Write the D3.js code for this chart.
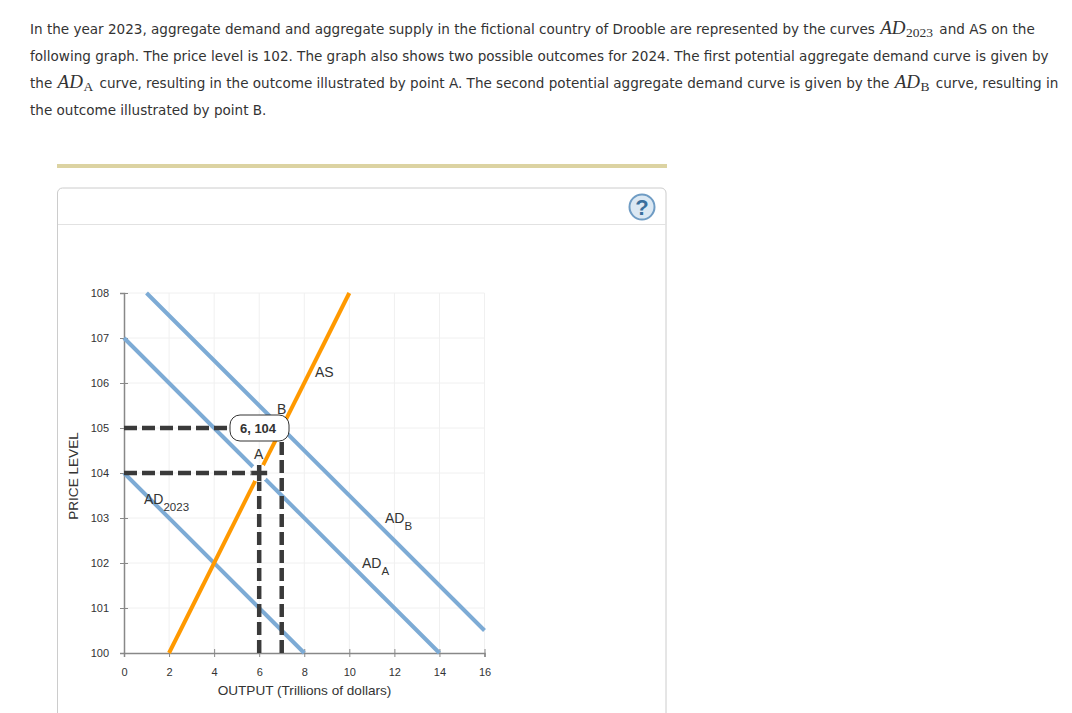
<!DOCTYPE html>
<html>
<head>
<meta charset="utf-8">
<script src="https://d3js.org/d3.v7.min.js"></script>
<style>
  html, body { margin: 0; padding: 0; background: #fff; overflow: hidden; }
  .para { font-family: "DejaVu Sans", sans-serif; font-size: 13.55px; fill: #333; }
  .math { font-family: "Liberation Serif", serif; font-style: italic; font-size: 19px; }
  .sub { font-family: "Liberation Serif", serif; font-style: normal; font-size: 13.5px; }
  .chartText { font-family: "Liberation Sans", Arial, sans-serif; fill: #333; }
  .tick text { font-family: "Liberation Sans", Arial, sans-serif; font-size: 11px; fill: #333; }
</style>
</head>
<body>
<div id="chart"></div>
<script>
// Chart values
var xTicks = [0, 2, 4, 6, 8, 10, 12, 14, 16];
var yTicks = [100, 101, 102, 103, 104, 105, 106, 107, 108];

var ad2023 = [[0, 104], [8, 100]];
var adA = [[0, 107], [14, 100]];
var adB = [[1, 108], [16, 100.5]];
var as = [[2, 100], [10, 108]];

var pointA = [6, 104];
var pointB = [7, 105];

var width = 1072;
var height = 713;

var svg = d3.select("#chart")
    .append("svg")
    .attr("width", width)
    .attr("height", height)
    .style("display", "block");

// Question text
var lines = [
  { y: 34, gap: 1, parts: [["In the year 2023, aggregate demand and aggregate supply in the fictional country of Drooble are represented by the curves "], ["AD", "2023"], [" and AS on the"]] },
  { y: 61, gap: 1, parts: [["following graph. The price level is 102. The graph also shows two possible outcomes for 2024. The first potential aggregate demand curve is given by"]] },
  { y: 88, gap: 1, parts: [["the "], ["AD", "A"], [" curve, resulting in the outcome illustrated by point A. The second potential aggregate demand curve is given by the "], ["AD", "B"], [" curve, resulting in"]] },
  { y: 114.5, gap: 1, parts: [["the outcome illustrated by point B."]] }
];

lines.forEach(function(line) {
  var t = svg.append("text")
      .attr("class", "para")
      .attr("x", 30)
      .attr("y", line.y)
      .attr("xml:space", "preserve");
  var back = 0;
  var after = 0;
  line.parts.forEach(function(p) {
    if (p.length === 1) {
      t.append("tspan").attr("dy", back).attr("dx", after).text(p[0]);
      back = 0;
      after = 0;
    } else {
      t.append("tspan").attr("class", "math").attr("dx", line.gap).text(p[0]);
      t.append("tspan").attr("class", "sub").attr("dy", 3).attr("dx", 0.5).text(p[1]);
      back = -3;
      after = 2;
    }
  });
});

// Tan bar and the panel
svg.append("rect")
    .attr("x", 57)
    .attr("y", 164)
    .attr("width", 610)
    .attr("height", 4)
    .attr("fill", "#dcd3a2");

svg.append("path")
    .attr("d", "M57.5,713V193a5,5 0 0 1 5,-5H661a5,5 0 0 1 5,5V713")
    .attr("fill", "none")
    .attr("stroke", "#ccc");

svg.append("line")
    .attr("x1", 58)
    .attr("x2", 666)
    .attr("y1", 224.5)
    .attr("y2", 224.5)
    .attr("stroke", "#e2e2e2");

// Help button
var help = svg.append("g").attr("transform", "translate(642,207)");
help.append("circle")
    .attr("r", 12.5)
    .attr("fill", "#dbe8f3")
    .attr("stroke", "#6f9cc4")
    .attr("stroke-width", 2);
help.append("text")
    .attr("class", "chartText")
    .attr("y", 8)
    .attr("text-anchor", "middle")
    .attr("font-size", 22)
    .attr("font-weight", "bold")
    .style("fill", "#3a6f9c")
    .text("?");

// Scales
var xScale = d3.scaleLinear().domain([0, 16]).range([124, 484.5]);
var yScale = d3.scaleLinear().domain([100, 108]).range([653, 293]);

// Grid
svg.append("g").selectAll("line").data(xTicks.slice(1)).enter().append("line")
    .attr("x1", function(d) { return xScale(d); })
    .attr("x2", function(d) { return xScale(d); })
    .attr("y1", yScale(108))
    .attr("y2", yScale(100))
    .attr("stroke", "#f0f0f0");

svg.append("g").selectAll("line").data(yTicks.slice(1)).enter().append("line")
    .attr("x1", xScale(0))
    .attr("x2", xScale(16))
    .attr("y1", function(d) { return yScale(d); })
    .attr("y2", function(d) { return yScale(d); })
    .attr("stroke", "#f0f0f0");

// Axes, ticks cross the axis line
var xAxis = d3.axisBottom(xScale).tickValues(xTicks).tickSize(4).tickPadding(11);
var yAxis = d3.axisLeft(yScale).tickValues(yTicks).tickSize(4).tickPadding(11).tickFormat(d3.format("d"));

var xG = svg.append("g").attr("transform", "translate(0," + yScale(100) + ")").call(xAxis);
var yG = svg.append("g").attr("transform", "translate(" + xScale(0) + ",0)").call(yAxis);

xG.selectAll(".tick line").attr("y1", -4).attr("stroke", "#888");
yG.selectAll(".tick line").attr("x1", 4).attr("stroke", "#888");
xG.select(".domain").attr("stroke", "#888").attr("stroke-width", 1.5);
yG.select(".domain").attr("stroke", "#888").attr("stroke-width", 1.5);

// Curves
var lineGen = d3.line()
    .x(function(d) { return xScale(d[0]); })
    .y(function(d) { return yScale(d[1]); });

[ad2023, adA, adB].forEach(function(d) {
  svg.append("path")
      .attr("d", lineGen(d))
      .attr("fill", "none")
      .attr("stroke", "#7dabd5")
      .attr("stroke-width", 4);
});

svg.append("path")
    .attr("d", lineGen(as))
    .attr("fill", "none")
    .attr("stroke", "#ff9900")
    .attr("stroke-width", 4);

// Dashed guides to the two outcomes, drawn from the axes inward
[pointA, pointB].forEach(function(p) {
  svg.append("path")
      .attr("d", lineGen([[0, p[1]], p]))
      .attr("fill", "none")
      .attr("stroke", "#3a3a3a")
      .attr("stroke-width", 4.5)
      .attr("stroke-dasharray", "13,5");
  svg.append("path")
      .attr("d", lineGen([[p[0], 100], p]))
      .attr("fill", "none")
      .attr("stroke", "#3a3a3a")
      .attr("stroke-width", 4.5)
      .attr("stroke-dasharray", "13,5");
});

// Plus marker on point A
var markerPath = "M-8,0H8M0,-8V8";
var marker = svg.append("g")
    .attr("transform", "translate(" + xScale(pointA[0]) + "," + yScale(pointA[1]) + ")");
marker.append("circle").attr("r", 9).attr("fill", "#fff");
marker.append("path").attr("d", markerPath).attr("stroke", "#fff").attr("stroke-width", 9);
marker.append("path").attr("d", markerPath).attr("stroke", "#3a3a3a").attr("stroke-width", 4.5);

// Curve labels
function label(x, y, main, sub) {
  var t = svg.append("text")
      .attr("class", "chartText")
      .attr("x", x)
      .attr("y", y)
      .attr("font-size", 14)
      .text(main);
  if (sub) {
    t.append("tspan").attr("font-size", 11.5).attr("dy", 7).text(sub);
  }
}

label(315, 377, "AS");
label(277, 414, "B");
label(254, 459, "A");
label(144, 504, "AD", "2023");
label(385, 523, "AD", "B");
label(362, 568, "AD", "A");

// Tooltip at point B
var tip = svg.append("g");
tip.append("rect")
    .attr("x", 230)
    .attr("y", 415)
    .attr("width", 59)
    .attr("height", 26)
    .attr("rx", 10)
    .attr("fill", "#fff")
    .attr("stroke", "#333");
tip.append("text")
    .attr("class", "chartText")
    .attr("x", 258)
    .attr("y", 432.5)
    .attr("text-anchor", "middle")
    .attr("font-size", 13)
    .attr("font-weight", "bold")
    .text("6, 104");

// Axis titles
svg.append("text")
    .attr("class", "chartText")
    .attr("x", 304.5)
    .attr("y", 695)
    .attr("text-anchor", "middle")
    .attr("font-size", 13.6)
    .text("OUTPUT (Trillions of dollars)");

svg.append("text")
    .attr("class", "chartText")
    .attr("transform", "translate(78,476)rotate(-90)")
    .attr("text-anchor", "middle")
    .attr("font-size", 13.6)
    .text("PRICE LEVEL");
</script>
</body>
</html>
